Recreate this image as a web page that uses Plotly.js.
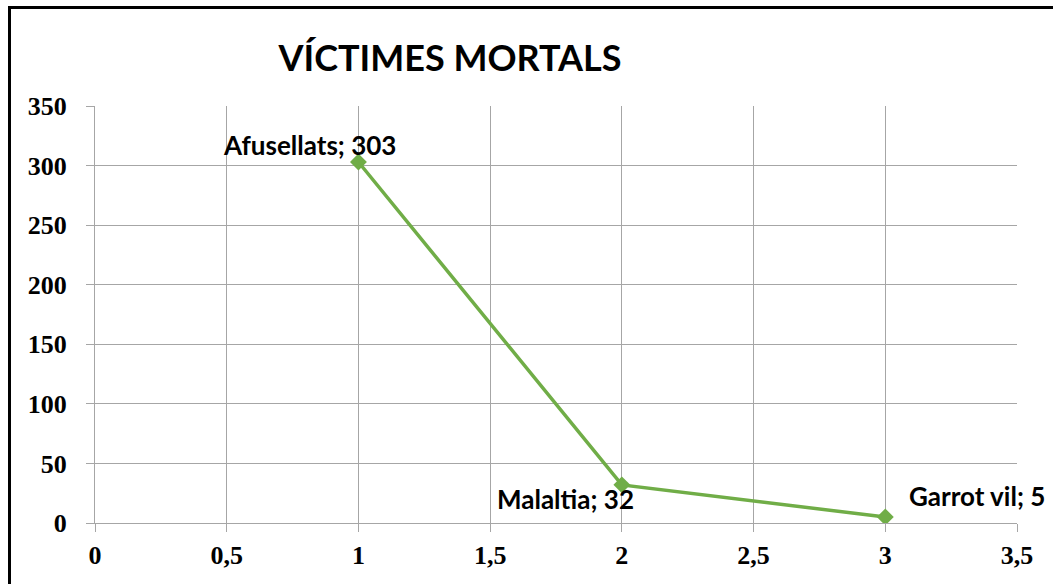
<!DOCTYPE html>
<html><head><meta charset="utf-8">
<script src="https://cdn.plot.ly/plotly-3.0.1.min.js"></script>
<style>
html,body{margin:0;padding:0;background:#fff;overflow:hidden;}
#chart{width:1053px;height:584px;}
#frame{position:absolute;left:8px;top:6px;width:1100px;height:640px;border:3px solid #000;pointer-events:none;}
</style></head>
<body>
<div id="chart"></div>
<div id="frame"></div>
<script>
const categories = ['Afusellats', 'Malaltia', 'Garrot vil'];
const xValues = [1, 2, 3];
const deaths = [303, 32, 5];
const chartTitle = 'VÍCTIMES MORTALS';

const labelShifts = [[-49, 17], [-56, -14], [92, 21]];

const trace = {
  x: xValues, y: deaths, type: 'scatter', mode: 'lines+markers',
  line: {color: '#70AD47', width: 3.5},
  marker: {symbol: 'diamond', size: 13, color: '#70AD47'},
  hoverinfo: 'skip'
};

const annotations = categories.map((c, i) => ({
  x: xValues[i], y: deaths[i], xref: 'x', yref: 'y',
  text: c + '; ' + deaths[i], showarrow: false,
  xanchor: 'center', yanchor: 'middle',
  xshift: labelShifts[i][0], yshift: labelShifts[i][1],
  font: {family: 'Lato, sans-serif', size: 26, color: '#000', weight: 'bold'}
}));

const axisCommon = {
  showgrid: true, gridcolor: '#a6a6a6', gridwidth: 1,
  showline: true, linecolor: '#a6a6a6', linewidth: 1,
  zeroline: false, ticks: 'outside', ticklen: 8, tickcolor: '#a6a6a6', tickwidth: 1,
  tickfont: {family: '"Liberation Serif", serif', size: 26, color: '#000', weight: 'bold'},
  fixedrange: true
};

const layout = {
  width: 1053, height: 584,
  margin: {l: 95, r: 36, t: 106, b: 61},
  paper_bgcolor: '#fff', plot_bgcolor: '#fff',
  separators: ',.',
  showlegend: false,
  title: {text: chartTitle, xref: 'container', yref: 'container', x: 450/1053, y: 1 - 58/584,
          xanchor: 'center', yanchor: 'middle',
          font: {family: 'Lato, sans-serif', size: 36, color: '#000', weight: 'bold'}},
  xaxis: Object.assign({}, axisCommon, {range: [0, 3.5], dtick: 0.5, tick0: 0, ticklabelstandoff: 1}),
  yaxis: Object.assign({}, axisCommon, {range: [0, 350], dtick: 50, tick0: 0, ticklabelstandoff: 14}),
  annotations: annotations
};

Plotly.newPlot('chart', [trace], layout, {displayModeBar: false, staticPlot: true});
</script>
</body></html>
